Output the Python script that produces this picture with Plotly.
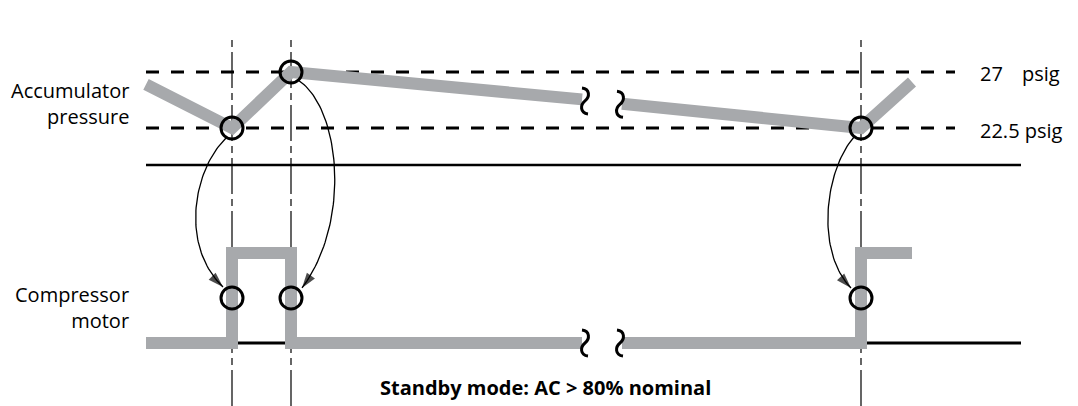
import numpy as np
import plotly.graph_objects as go

# ---- data ----
EVENT_T = [232, 291, 861]            # moments the compressor switches
EVENT_P = [22.5, 27.0, 22.5]         # accumulator pressure at those moments
EVENT_M = [0.5, 0.5, 0.5]            # halfway up the motor step

PRESS_T_A = [146, 232, 291, 582]
PRESS_V_A = [26.0, 22.5, 27.0, 24.8]
PRESS_T_B = [622, 861, 912]
PRESS_V_B = [24.45, 22.5, 26.2]

MOTOR_T_A = [146, 232, 291, 582]
MOTOR_V_A = [0, 1, 0, 0]
MOTOR_T_B = [622, 861, 912]
MOTOR_V_B = [0, 1, 1]

THRESHOLDS = [27.0, 22.5]
BREAK_T = [585, 620]
LINE_T = [146, 955, 1021]            # start, dashed end, solid end

GRAY = "#a7a9ac"
FONT = "Open Sans"
# the page body has an 8px margin, so the plot starts 8px in
OFF = 8
W, H = 1078 - OFF, 406 - OFF
P_RANGE = [0.161, 32.143]
M_RANGE = [-0.70, 3.722]


def paper_y(page_y):
    return 1 - (page_y - OFF) / H


def p_to_px(p):
    return OFF + H * (P_RANGE[1] - p) / (P_RANGE[1] - P_RANGE[0])


def px_to_p(y):
    return P_RANGE[1] - (y - OFF) * (P_RANGE[1] - P_RANGE[0]) / H


def m_to_px(m):
    return OFF + H * (M_RANGE[1] - m) / (M_RANGE[1] - M_RANGE[0])


def bezier(p0, p1, p2, p3, n=60):
    t = np.linspace(0, 1, n)[:, None]
    pts = ((1 - t) ** 3) * p0 + 3 * ((1 - t) ** 2) * t * p1 + 3 * (1 - t) * t ** 2 * p2 + t ** 3 * p3
    return pts[:, 0], pts[:, 1]


fig = go.Figure()

# gray traces
for tt, vv in [(PRESS_T_A, PRESS_V_A), (PRESS_T_B, PRESS_V_B)]:
    fig.add_trace(go.Scatter(x=tt, y=vv, mode="lines", line=dict(color=GRAY, width=12), yaxis="y"))
for tt, vv in [(MOTOR_T_A, MOTOR_V_A), (MOTOR_T_B, MOTOR_V_B)]:
    fig.add_trace(go.Scatter(x=tt, y=vv, mode="lines", line=dict(color=GRAY, width=12, shape="hv"),
                             yaxis="y2"))

# curved arrows: top event -> motor event (pixel offsets for the curve shape)
ARROWS = [
    (0, (-6, 10), (-39, 42), (-52, -52), (-9, -11)),
    (1, (7, 8), (49, 35), (61, -77), (11, -10)),
    (2, (-7, 9), (-36, 42), (-46, -47), (-10, -10)),
]
for i, o0, o1, o2, o3 in ARROWS:
    top = np.array([EVENT_T[i], p_to_px(EVENT_P[i])])
    bot = np.array([EVENT_T[i], m_to_px(EVENT_M[i])])
    bx, by = bezier(top + o0, top + o1, bot + o2, bot + o3)
    n = len(bx)
    fig.add_trace(go.Scatter(
        x=bx, y=[px_to_p(v) for v in by], mode="lines+markers", yaxis="y",
        line=dict(color="black", width=1.3),
        marker=dict(symbol="arrow", angleref="previous", color="black",
                    size=[0] * (n - 1) + [16], line=dict(width=0)),
    ))

# event circles
fig.add_trace(go.Scatter(x=EVENT_T, y=EVENT_P, mode="markers", yaxis="y",
                         marker=dict(size=22, color="rgba(0,0,0,0)", line=dict(color="black", width=3))))
fig.add_trace(go.Scatter(x=EVENT_T, y=EVENT_M, mode="markers", yaxis="y2",
                         marker=dict(size=22, color="rgba(0,0,0,0)", line=dict(color="black", width=3))))

shapes = []
# vertical dash-dot event lines
for t in EVENT_T:
    shapes.append(dict(type="line", xref="x", yref="paper", x0=t, x1=t, y0=0, y1=paper_y(38),
                       layer="below", line=dict(color="black", width=1.2, dash="36px,5px,7px,5px")))
# threshold lines
for v in THRESHOLDS:
    shapes.append(dict(type="line", xref="x", yref="y", x0=LINE_T[0], x1=LINE_T[1], y0=v, y1=v,
                       layer="below", line=dict(color="black", width=3, dash="13px,12px")))
# pressure panel base line
shapes.append(dict(type="line", xref="x", yref="paper", x0=LINE_T[0], x1=LINE_T[2],
                   y0=paper_y(165), y1=paper_y(165), layer="below", line=dict(color="black", width=2.5)))
# motor base line (broken like the trace)
for x0, x1 in [(LINE_T[0], BREAK_T[0] - 3), (BREAK_T[1] + 3, LINE_T[2])]:
    shapes.append(dict(type="line", xref="x", yref="y2", x0=x0, x1=x1, y0=0, y1=0,
                       layer="below", line=dict(color="black", width=3)))

# break squiggles
SQUIG = "M -3,13 C 5,12 5,4 0,0 C -5,-4 -5,-12 3,-13"
for bt in BREAK_T:
    pv = np.interp(bt, [EVENT_T[1], EVENT_T[2]], [EVENT_P[1], EVENT_P[2]])
    shapes.append(dict(type="path", xref="x", yref="y", xsizemode="pixel", ysizemode="pixel",
                       xanchor=bt, yanchor=pv, path=SQUIG, line=dict(color="black", width=3)))
    shapes.append(dict(type="path", xref="x", yref="y2", xsizemode="pixel", ysizemode="pixel",
                       xanchor=bt, yanchor=0, path=SQUIG, line=dict(color="black", width=3)))

label = dict(showarrow=False, font=dict(size=20), yanchor="middle")
annotations = [
    dict(text="Accumulator<br>pressure", x=131, y=paper_y(104), xref="x", yref="paper",
         xanchor="right", align="right", **label),
    dict(text="Compressor<br>motor", x=131, y=paper_y(307), xref="x", yref="paper",
         xanchor="right", align="right", **label),
    dict(text="27", x=978, y=THRESHOLDS[0], xref="x", yref="y", xanchor="left", yshift=-1, **label),
    dict(text="psig", x=1020, y=THRESHOLDS[0], xref="x", yref="y", xanchor="left", yshift=-1, **label),
    dict(text="22.5 psig", x=978, y=THRESHOLDS[1], xref="x", yref="y", xanchor="left", yshift=-2, **label),
    dict(text="<b>Standby mode: AC &gt; 80% nominal</b>", x=545, y=paper_y(387), xref="x", yref="paper",
         xanchor="center", **label),
]

fig.update_layout(
    width=W, height=H,
    margin=dict(l=0, r=0, t=0, b=0),
    plot_bgcolor="white", paper_bgcolor="white",
    showlegend=False,
    font=dict(family=FONT, color="black"),
    xaxis=dict(range=[OFF, 1078], visible=False),
    yaxis=dict(range=P_RANGE, visible=False),
    yaxis2=dict(range=M_RANGE, visible=False, overlaying="y"),
    shapes=shapes,
    annotations=annotations,
)

fig.write_html("out.html")
